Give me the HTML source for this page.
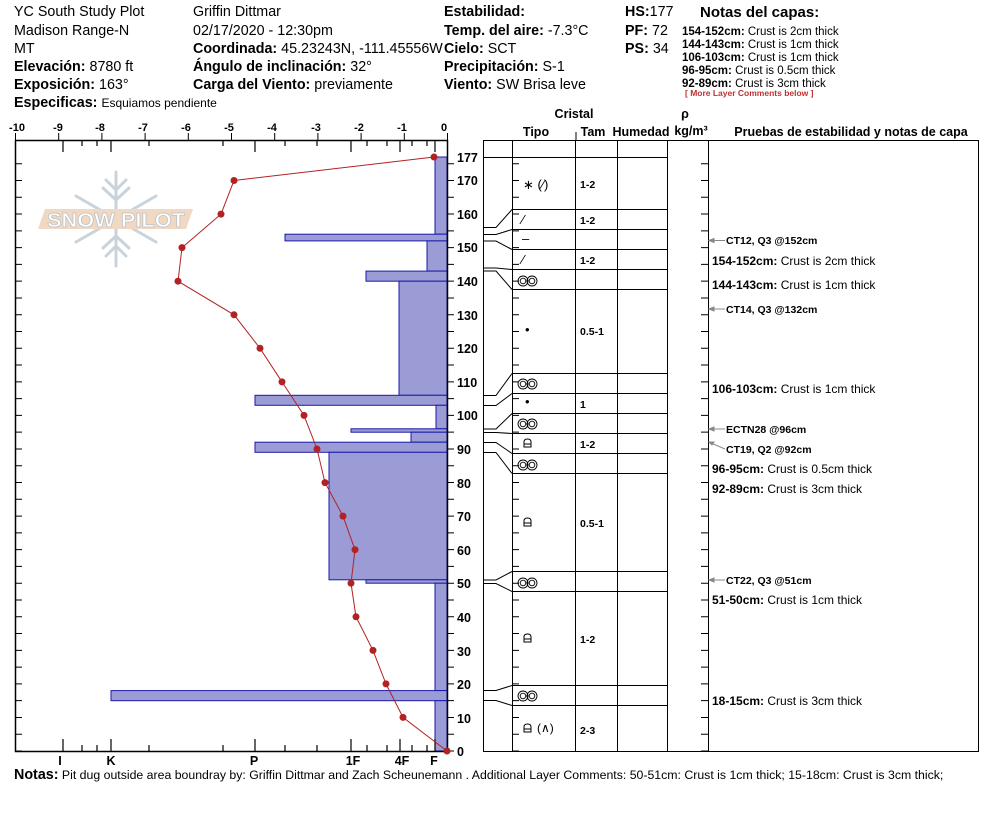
<!DOCTYPE html>
<html><head><meta charset="utf-8"><style>
body{margin:0;background:#fff;}
svg{display:block;font-family:"Liberation Sans",Arial,sans-serif;}
.h{font-size:14.3px;}
</style></head><body>
<svg width="994" height="840" viewBox="0 0 994 840" xmlns="http://www.w3.org/2000/svg">
<defs>
<g id="mf" fill="none" stroke="#000" stroke-width="0.9">
<circle cx="5" cy="0" r="5"/><circle cx="14" cy="0" r="5"/><circle cx="5" cy="0" r="2.8"/><circle cx="14" cy="0" r="2.8"/>
</g>
<g id="rg" fill="none" stroke="#000" stroke-width="1">
<path d="M0 4V-1Q0 -4 3.5 -4Q7 -4 7 -1V4Z M0 1H7"/>
</g>
</defs>
<g class="h" fill="#000">
<text x="14" y="16">YC South Study Plot</text>
<text x="14" y="35">Madison Range-N</text>
<text x="14" y="53">MT</text>
<text x="14" y="71"><tspan font-weight="bold">Elevación:</tspan> 8780 ft</text>
<text x="14" y="89"><tspan font-weight="bold">Exposición:</tspan> 163°</text>
<text x="14" y="107"><tspan font-weight="bold">Especificas:</tspan> <tspan font-size="12">Esquiamos pendiente</tspan></text>
<text x="193" y="16">Griffin Dittmar</text>
<text x="193" y="35">02/17/2020 - 12:30pm</text>
<text x="193" y="53"><tspan font-weight="bold">Coordinada:</tspan> 45.23243N, -111.45556W</text>
<text x="193" y="71"><tspan font-weight="bold">Ángulo de inclinación:</tspan> 32°</text>
<text x="193" y="89"><tspan font-weight="bold">Carga del Viento:</tspan> previamente</text>
<text x="444" y="16" font-weight="bold">Estabilidad:</text>
<text x="444" y="35"><tspan font-weight="bold">Temp. del aire:</tspan> -7.3°C</text>
<text x="444" y="53"><tspan font-weight="bold">Cielo:</tspan> SCT</text>
<text x="444" y="71"><tspan font-weight="bold">Precipitación:</tspan> S-1</text>
<text x="444" y="89"><tspan font-weight="bold">Viento:</tspan>  SW Brisa leve</text>
<text x="625" y="16"><tspan font-weight="bold">HS:</tspan>177</text>
<text x="625" y="35"><tspan font-weight="bold">PF:</tspan> 72</text>
<text x="625" y="53"><tspan font-weight="bold">PS:</tspan> 34</text>
<text x="700" y="17" font-weight="bold" font-size="15">Notas del capas:</text>
</g>
<g font-size="11.5">
<text x="682" y="35"><tspan font-weight="bold">154-152cm:</tspan> Crust is 2cm thick</text>
<text x="682" y="48"><tspan font-weight="bold">144-143cm:</tspan> Crust is 1cm thick</text>
<text x="682" y="61"><tspan font-weight="bold">106-103cm:</tspan> Crust is 1cm thick</text>
<text x="682" y="74"><tspan font-weight="bold">96-95cm:</tspan> Crust is 0.5cm thick</text>
<text x="682" y="87"><tspan font-weight="bold">92-89cm:</tspan> Crust is 3cm thick</text>
<text x="685" y="96" font-size="8.5" font-weight="bold" fill="#c03030">[ More Layer Comments below ]</text>
</g>
<g stroke="#c8d3dc" stroke-width="3" fill="none" stroke-linecap="round">
<line x1="116" y1="172" x2="116" y2="266"/>
<line x1="76" y1="196" x2="156" y2="242"/>
<line x1="76" y1="242" x2="156" y2="196"/>
<path d="M106 180 L116 190 L126 180 M103 188 L116 200 L129 188 M106 256 L116 246 L126 256 M103 248 L116 236 L129 248"/>
</g>
<polygon points="45,209 193,209 186,229 38,229" fill="#f0d8c2"/>
<text x="116" y="227" text-anchor="middle" font-size="20" font-weight="bold" fill="#fff" stroke="#b8c0c8" stroke-width="0.7" textLength="138" lengthAdjust="spacingAndGlyphs">SNOW PILOT</text>
<g font-size="11" font-weight="bold" text-anchor="middle">
<text x="17" y="131">-10</text><text x="58" y="131">-9</text><text x="100" y="131">-8</text><text x="143" y="131">-7</text><text x="186" y="131">-6</text><text x="229" y="131">-5</text><text x="272" y="131">-4</text><text x="316" y="131">-3</text><text x="359" y="131">-2</text><text x="402" y="131">-1</text><text x="444" y="131">0</text>
</g>
<g fill="#9b9bd6" stroke="#1a1aa8" stroke-width="1">
<rect x="435" y="157" width="12" height="77.2"/>
<rect x="285" y="234.2" width="162" height="6.7"/>
<rect x="427" y="240.9" width="20" height="30.2"/>
<rect x="366" y="271.1" width="81" height="10.1"/>
<rect x="399" y="281.2" width="48" height="114.1"/>
<rect x="255" y="395.3" width="192" height="10"/>
<rect x="436" y="405.3" width="11" height="23.5"/>
<rect x="351" y="428.8" width="96" height="3.4"/>
<rect x="411" y="432.2" width="36" height="10"/>
<rect x="255" y="442.2" width="192" height="10.1"/>
<rect x="329" y="452.3" width="118" height="127.5"/>
<rect x="366" y="579.8" width="81" height="3.4"/>
<rect x="435" y="583.2" width="12" height="107.4"/>
<rect x="111" y="690.6" width="336" height="10.1"/>
<rect x="435" y="700.7" width="12" height="50.3"/>
</g>
<g stroke="#000" fill="none">
<rect x="15.5" y="140.5" width="432" height="611" stroke-width="1.5"/>
<line x1="15" y1="136.5" x2="448" y2="136.5" stroke-width="7" stroke-dasharray="1 42.2"/>
<line x1="18.5" y1="751.5" x2="18.5" y2="150" stroke-width="7" stroke-dasharray="1 15.78"/>
<line x1="450.5" y1="751.5" x2="450.5" y2="150" stroke-width="7" stroke-dasharray="1 15.78"/>
<path stroke-width="1.2" d="M63 140v12M82 140v6M97 140v6M111 140v12M149 140v6M223 140v6M255 140v12M285 140v6M317 140v6M351 140v12M367 140v6M387 140v6M400 140v12M412 140v6M427 140v6M435 140v12
M63 751v-12M82 751v-6M97 751v-6M111 751v-12M149 751v-6M223 751v-6M255 751v-12M285 751v-6M317 751v-6M351 751v-12M367 751v-6M387 751v-6M400 751v-12M412 751v-6M427 751v-6M435 751v-12"/>
</g>
<g font-size="12.5" font-weight="bold" text-anchor="middle">
<text x="60" y="765">I</text><text x="111" y="765">K</text><text x="254" y="765">P</text><text x="353" y="765">1F</text><text x="402" y="765">4F</text><text x="434" y="765">F</text>
</g>
<g font-size="12.5" font-weight="bold">
<text x="457" y="162">177</text><text x="457" y="185">170</text><text x="457" y="219">160</text><text x="457" y="252">150</text><text x="457" y="286">140</text><text x="457" y="320">130</text><text x="457" y="353">120</text><text x="457" y="387">110</text><text x="457" y="420">100</text><text x="457" y="454">90</text><text x="457" y="488">80</text><text x="457" y="521">70</text><text x="457" y="555">60</text><text x="457" y="588">50</text><text x="457" y="622">40</text><text x="457" y="656">30</text><text x="457" y="689">20</text><text x="457" y="723">10</text><text x="457" y="756">0</text>
</g>
<polyline fill="none" stroke="#b22222" stroke-width="1" points="434,157 234,180.5 221,214.1 182,247.6 178,281.2 234,314.8 260,348.3 282,381.9 304,415.4 317,449 325,482.6 343,516.1 355,549.7 351,583.2 356,616.8 373,650.4 386,683.9 403,717.4 447,751"/>
<g fill="#b22222">
<circle cx="434" cy="157" r="3.5"/><circle cx="234" cy="180.5" r="3.5"/><circle cx="221" cy="214.1" r="3.5"/><circle cx="182" cy="247.6" r="3.5"/><circle cx="178" cy="281.2" r="3.5"/><circle cx="234" cy="314.8" r="3.5"/><circle cx="260" cy="348.3" r="3.5"/><circle cx="282" cy="381.9" r="3.5"/><circle cx="304" cy="415.4" r="3.5"/><circle cx="317" cy="449" r="3.5"/><circle cx="325" cy="482.6" r="3.5"/><circle cx="343" cy="516.1" r="3.5"/><circle cx="355" cy="549.7" r="3.5"/><circle cx="351" cy="583.2" r="3.5"/><circle cx="356" cy="616.8" r="3.5"/><circle cx="373" cy="650.4" r="3.5"/><circle cx="386" cy="683.9" r="3.5"/><circle cx="403" cy="717.4" r="3.5"/><circle cx="447" cy="751" r="3.5"/>
</g>
<g font-size="12.5" font-weight="bold" text-anchor="middle">
<text x="574" y="118">Cristal</text>
<text x="536" y="136">Tipo</text>
<text x="593" y="136">Tam</text>
<text x="641" y="136">Humedad</text>
<text x="685" y="118">ρ</text>
<text x="691" y="135">kg/m³</text>
<text x="851" y="136">Pruebas de estabilidad y notas de capa</text>
</g>
<line x1="576" y1="132" x2="576" y2="140" stroke="#000"/>
<g stroke="#000" fill="none" stroke-width="1">
<rect x="483.5" y="140.5" width="495" height="611"/>
<line x1="512.5" y1="140" x2="512.5" y2="751"/>
<line x1="575.5" y1="140" x2="575.5" y2="751"/>
<line x1="617.5" y1="140" x2="617.5" y2="751"/>
<line x1="667.5" y1="140" x2="667.5" y2="751"/>
<line x1="708.5" y1="140" x2="708.5" y2="751"/>
<path d="M483 157.5H667M512 209.5H667M512 229.5H667M512 249.5H667M512 269.5H667M512 289.5H667M512 373.5H667M512 393.5H667M512 413.5H667M512 433.5H667M512 453.5H667M512 473.5H667M512 571.5H667M512 591.5H667M512 685.5H667M512 705.5H667"/>
<line x1="515.5" y1="751.5" x2="515.5" y2="150" stroke-width="7" stroke-dasharray="1 15.78"/>
<line x1="704.5" y1="751.5" x2="704.5" y2="150" stroke-width="7" stroke-dasharray="1 15.78"/>
<path d="M483 227.5H496L512 209.5M483 234.5H496L512 229.5M483 241H496L512 249.5M483 268H496L512 269.5M483 271H496L512 289.5M483 395.5H496L512 373.5M483 405.5H496L512 393.5M483 429H496L512 413.5M483 432.5H496L512 433.5M483 442.5H496L512 453.5M483 452.5H496L512 473.5M483 580H496L512 571.5M483 583.5H496L512 591.5M483 690.5H496L512 685.5M483 700.5H496L512 705.5"/>
</g>
<g font-size="13">
<text x="523" y="189">∗ (⁄)</text>
<text x="522" y="224">⁄</text>
<text x="522" y="243">–</text>
<text x="522" y="264">⁄</text>
<text x="525" y="334">•</text>
<text x="525" y="406">•</text>
<text x="537" y="732" font-size="12">(∧)</text>
</g>
<use href="#mf" x="518" y="281"/>
<use href="#mf" x="518" y="384"/>
<use href="#mf" x="518" y="424"/>
<use href="#mf" x="518" y="465"/>
<use href="#mf" x="518" y="583"/>
<use href="#mf" x="518" y="696"/>
<use href="#rg" x="524" y="443"/>
<use href="#rg" x="524" y="522"/>
<use href="#rg" x="524" y="638"/>
<use href="#rg" x="524" y="728"/>
<g font-size="10.5" font-weight="bold">
<text x="580" y="188">1-2</text><text x="580" y="224">1-2</text><text x="580" y="264">1-2</text><text x="580" y="335">0.5-1</text><text x="580" y="408">1</text><text x="580" y="448">1-2</text><text x="580" y="527">0.5-1</text><text x="580" y="643">1-2</text><text x="580" y="734">2-3</text>
</g>
<g stroke="#888" fill="#888">
<path d="M711 240.5H725M711 309H725M711 429H725M711 580H725M711 443L725 449" fill="none"/>
<path d="M709 240.5l5-2v4zM709 309l5-2v4zM709 429l5-2v4zM709 580l5-2v4zM709 442l5 0-2 3z"/>
</g>
<g font-size="10.5" font-weight="bold">
<text x="726" y="244">CT12, Q3 @152cm</text>
<text x="726" y="313">CT14, Q3 @132cm</text>
<text x="726" y="433">ECTN28 @96cm</text>
<text x="726" y="453">CT19, Q2 @92cm</text>
<text x="726" y="584">CT22, Q3 @51cm</text>
</g>
<g font-size="12">
<text x="712" y="265"><tspan font-weight="bold">154-152cm:</tspan> Crust is 2cm thick</text>
<text x="712" y="289"><tspan font-weight="bold">144-143cm:</tspan> Crust is 1cm thick</text>
<text x="712" y="393"><tspan font-weight="bold">106-103cm:</tspan> Crust is 1cm thick</text>
<text x="712" y="473"><tspan font-weight="bold">96-95cm:</tspan> Crust is 0.5cm thick</text>
<text x="712" y="493"><tspan font-weight="bold">92-89cm:</tspan> Crust is 3cm thick</text>
<text x="712" y="604"><tspan font-weight="bold">51-50cm:</tspan> Crust is 1cm thick</text>
<text x="712" y="705"><tspan font-weight="bold">18-15cm:</tspan> Crust is 3cm thick</text>
</g>
<text x="14" y="779" font-size="12.3"><tspan font-weight="bold" font-size="14.3">Notas:</tspan>  Pit dug outside area boundray by: Griffin Dittmar and Zach Scheunemann . Additional Layer Comments: 50-51cm: Crust is 1cm thick; 15-18cm: Crust is 3cm thick;</text>
</svg>
</body></html>
